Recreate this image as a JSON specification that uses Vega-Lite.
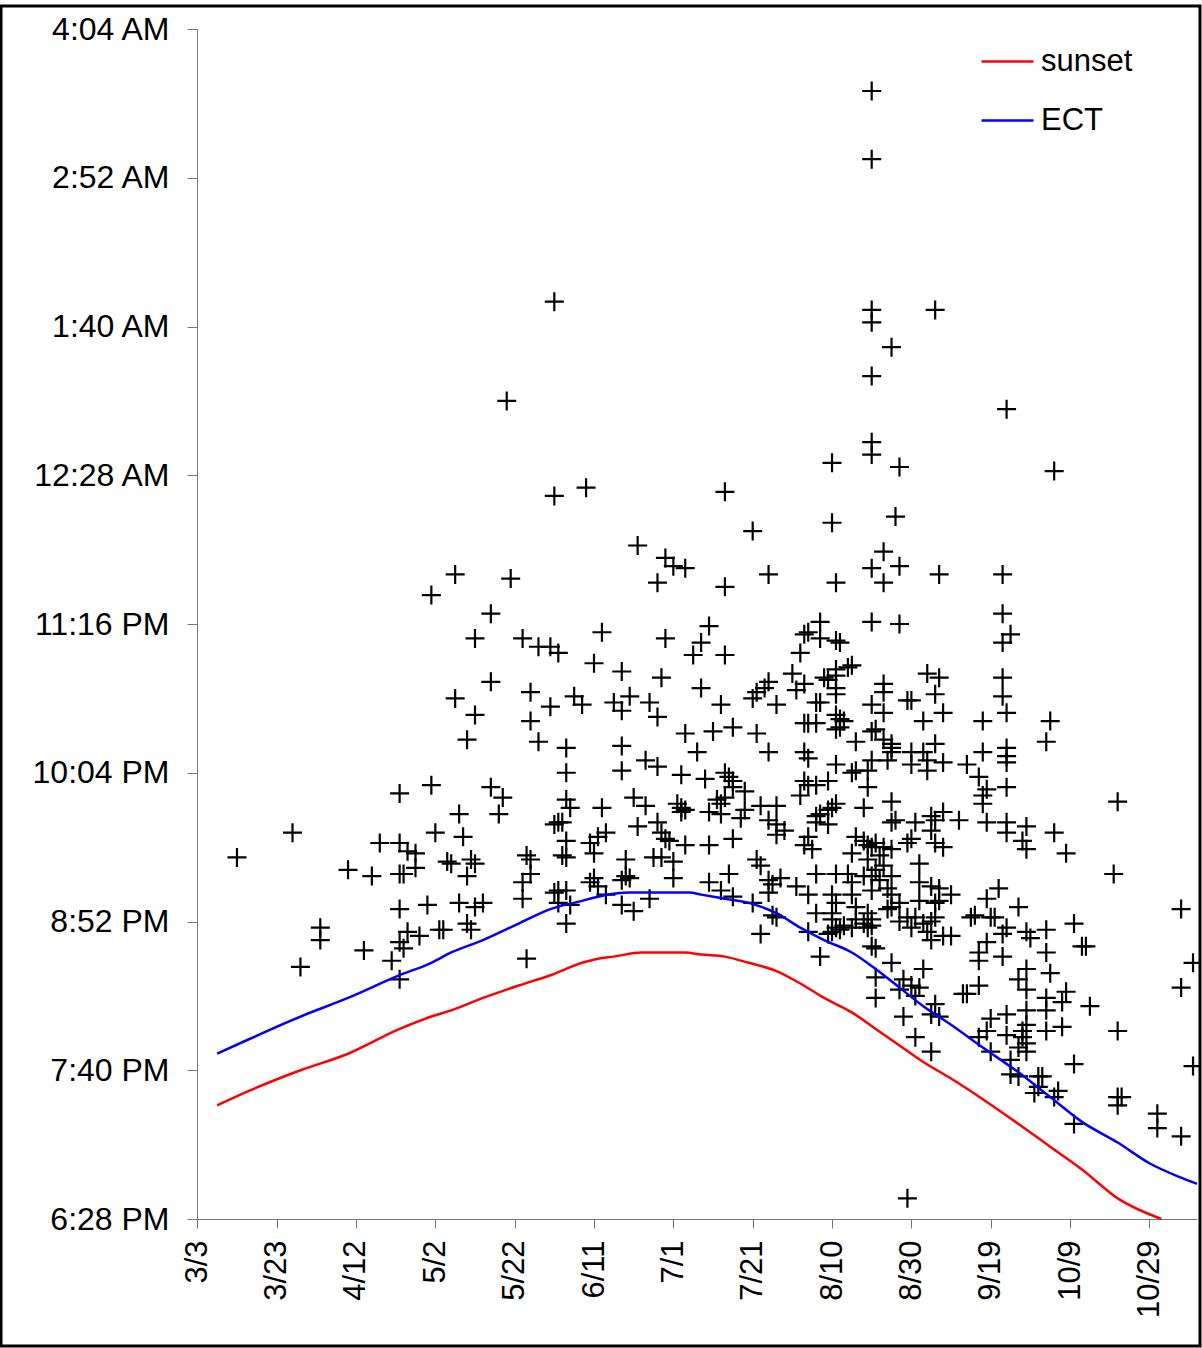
{
"$schema":"https://vega.github.io/schema/vega-lite/v6.json",
"width":1199,"height":1340,
"autosize":{"type":"none"},
"padding":{"left":1,"top":6,"right":2,"bottom":2},
"background":"white",
"config":{"view":{"stroke":"#000","strokeWidth":3,"fill":"white"},"font":"Liberation Sans",
"axis":{"labelFont":"Liberation Sans","labelFontSize":31,"labelColor":"#000","domainColor":"#777","tickColor":"#777","domainWidth":1,"tickWidth":1,"grid":false,"title":null}},
"datasets":{
"obs":[
{"date":"2006-08-20","minutes":1654},{"date":"2006-08-20","minutes":1621},{"date":"2006-06-01","minutes":1552},{"date":"2006-08-20","minutes":1548},{"date":"2006-08-20","minutes":1542},{"date":"2006-09-05","minutes":1548},{"date":"2006-08-25","minutes":1530},{"date":"2006-08-20","minutes":1516},{"date":"2006-05-20","minutes":1504},{"date":"2006-09-23","minutes":1500},
{"date":"2006-08-20","minutes":1484},{"date":"2006-08-20","minutes":1478},{"date":"2006-08-10","minutes":1474},{"date":"2006-08-27","minutes":1472},{"date":"2006-10-05","minutes":1470},{"date":"2006-06-01","minutes":1458},{"date":"2006-06-09","minutes":1462},{"date":"2006-07-14","minutes":1460},{"date":"2006-08-26","minutes":1448},{"date":"2006-08-10","minutes":1445},
{"date":"2006-07-21","minutes":1441},{"date":"2006-06-22","minutes":1434},{"date":"2006-08-23","minutes":1431},{"date":"2006-06-29","minutes":1428},{"date":"2006-07-01","minutes":1424},{"date":"2006-07-04","minutes":1423},{"date":"2006-08-20","minutes":1423},{"date":"2006-08-27","minutes":1424},{"date":"2006-06-27","minutes":1416},{"date":"2006-05-07","minutes":1420},
{"date":"2006-05-21","minutes":1418},{"date":"2006-08-23","minutes":1416},{"date":"2006-09-06","minutes":1420},{"date":"2006-09-22","minutes":1420},{"date":"2006-07-14","minutes":1414},{"date":"2006-07-25","minutes":1420},{"date":"2006-08-11","minutes":1416},{"date":"2006-05-01","minutes":1410},{"date":"2006-05-16","minutes":1401},{"date":"2006-09-22","minutes":1401},
{"date":"2006-08-20","minutes":1397},{"date":"2006-08-27","minutes":1396},{"date":"2006-08-07","minutes":1397},{"date":"2006-07-10","minutes":1395},{"date":"2006-05-12","minutes":1389},{"date":"2006-05-24","minutes":1389},{"date":"2006-05-28","minutes":1385},{"date":"2006-05-31","minutes":1385},{"date":"2006-06-02","minutes":1382},{"date":"2006-06-13","minutes":1392},
{"date":"2006-06-29","minutes":1389},{"date":"2006-07-08","minutes":1387},{"date":"2006-09-22","minutes":1387},{"date":"2006-09-24","minutes":1391},{"date":"2006-08-03","minutes":1391},{"date":"2006-08-04","minutes":1392},{"date":"2006-08-07","minutes":1389},{"date":"2006-08-12","minutes":1387},{"date":"2006-08-11","minutes":1388},{"date":"2006-08-02","minutes":1382},
{"date":"2006-07-06","minutes":1381},{"date":"2006-07-14","minutes":1381},{"date":"2006-06-11","minutes":1377},{"date":"2006-06-18","minutes":1373},{"date":"2006-06-28","minutes":1370},{"date":"2006-08-15","minutes":1376},{"date":"2006-08-14","minutes":1375},{"date":"2006-08-11","minutes":1374},{"date":"2006-08-11","minutes":1371},{"date":"2006-07-31","minutes":1372},
{"date":"2006-09-22","minutes":1370},{"date":"2006-09-03","minutes":1372},{"date":"2006-09-06","minutes":1370},{"date":"2006-05-16","minutes":1368},{"date":"2006-07-25","minutes":1368},{"date":"2006-07-24","minutes":1365},{"date":"2006-07-22","minutes":1363},{"date":"2006-07-21","minutes":1360},{"date":"2006-07-08","minutes":1365},{"date":"2006-08-08","minutes":1370},
{"date":"2006-08-09","minutes":1369},{"date":"2006-08-03","minutes":1367},{"date":"2006-08-01","minutes":1364},{"date":"2006-08-11","minutes":1365},{"date":"2006-08-11","minutes":1362},{"date":"2006-08-23","minutes":1367},{"date":"2006-08-23","minutes":1363},{"date":"2006-09-22","minutes":1361},{"date":"2006-09-23","minutes":1353},{"date":"2006-05-07","minutes":1360},
{"date":"2006-05-12","minutes":1352},{"date":"2006-05-26","minutes":1363},{"date":"2006-05-31","minutes":1356},{"date":"2006-06-06","minutes":1361},{"date":"2006-06-08","minutes":1357},{"date":"2006-06-16","minutes":1358},{"date":"2006-06-18","minutes":1354},{"date":"2006-06-20","minutes":1361},{"date":"2006-06-25","minutes":1358},{"date":"2006-06-27","minutes":1351},
{"date":"2006-07-13","minutes":1357},{"date":"2006-07-27","minutes":1357},{"date":"2006-08-06","minutes":1358},{"date":"2006-08-07","minutes":1358},{"date":"2006-08-20","minutes":1357},{"date":"2006-08-23","minutes":1353},{"date":"2006-08-29","minutes":1359},{"date":"2006-08-30","minutes":1359},{"date":"2006-09-05","minutes":1362},{"date":"2006-09-07","minutes":1353},
{"date":"2006-09-02","minutes":1349},{"date":"2006-09-17","minutes":1349},{"date":"2006-10-04","minutes":1349},{"date":"2006-10-03","minutes":1339},{"date":"2006-08-11","minutes":1352},{"date":"2006-08-12","minutes":1350},{"date":"2006-08-13","minutes":1349},{"date":"2006-05-26","minutes":1349},{"date":"2006-07-11","minutes":1344},{"date":"2006-07-16","minutes":1346},
{"date":"2006-07-22","minutes":1343},{"date":"2006-07-04","minutes":1343},{"date":"2006-05-10","minutes":1340},{"date":"2006-05-28","minutes":1339},{"date":"2006-06-04","minutes":1336},{"date":"2006-06-18","minutes":1337},{"date":"2006-07-07","minutes":1334},{"date":"2006-07-25","minutes":1334},{"date":"2006-08-03","minutes":1348},{"date":"2006-08-04","minutes":1348},
{"date":"2006-08-06","minutes":1348},{"date":"2006-08-11","minutes":1345},{"date":"2006-08-12","minutes":1346},{"date":"2006-08-16","minutes":1339},{"date":"2006-08-20","minutes":1344},{"date":"2006-08-21","minutes":1345},{"date":"2006-08-23","minutes":1340},{"date":"2006-08-25","minutes":1338},{"date":"2006-08-25","minutes":1336},{"date":"2006-09-05","minutes":1338},
{"date":"2006-09-17","minutes":1334},{"date":"2006-09-23","minutes":1336},{"date":"2006-09-23","minutes":1332},{"date":"2006-09-23","minutes":1329},{"date":"2006-09-13","minutes":1328},{"date":"2006-09-16","minutes":1322},{"date":"2006-09-18","minutes":1316},{"date":"2006-09-17","minutes":1313},{"date":"2006-09-17","minutes":1309},{"date":"2006-09-23","minutes":1317},
{"date":"2006-10-21","minutes":1310},{"date":"2006-08-04","minutes":1331},{"date":"2006-08-03","minutes":1334},{"date":"2006-08-11","minutes":1328},{"date":"2006-08-16","minutes":1325},{"date":"2006-08-15","minutes":1324},{"date":"2006-08-20","minutes":1330},{"date":"2006-08-19","minutes":1325},{"date":"2006-08-19","minutes":1317},{"date":"2006-08-25","minutes":1334},
{"date":"2006-08-24","minutes":1330},{"date":"2006-08-30","minutes":1334},{"date":"2006-08-30","minutes":1328},{"date":"2006-09-02","minutes":1334},{"date":"2006-09-03","minutes":1330},{"date":"2006-09-03","minutes":1325},{"date":"2006-09-07","minutes":1329},{"date":"2006-06-04","minutes":1324},{"date":"2006-06-18","minutes":1325},{"date":"2006-07-03","minutes":1323},
{"date":"2006-07-09","minutes":1321},{"date":"2006-07-14","minutes":1324},{"date":"2006-07-15","minutes":1322},{"date":"2006-07-16","minutes":1320},{"date":"2006-08-03","minutes":1320},{"date":"2006-08-04","minutes":1318},{"date":"2006-08-02","minutes":1313},{"date":"2006-08-06","minutes":1318},{"date":"2006-08-09","minutes":1320},{"date":"2006-07-16","minutes":1317},
{"date":"2006-07-19","minutes":1315},{"date":"2006-07-13","minutes":1309},{"date":"2006-07-12","minutes":1311},{"date":"2006-07-14","minutes":1312},{"date":"2006-05-16","minutes":1317},{"date":"2006-05-19","minutes":1312},{"date":"2006-06-04","minutes":1311},{"date":"2006-06-05","minutes":1307},{"date":"2006-06-13","minutes":1307},{"date":"2006-06-21","minutes":1312},
{"date":"2006-06-24","minutes":1308},{"date":"2006-07-02","minutes":1309},{"date":"2006-07-03","minutes":1305},{"date":"2006-07-04","minutes":1306},{"date":"2006-07-03","minutes":1307},{"date":"2006-04-23","minutes":1314},{"date":"2006-05-01","minutes":1318},{"date":"2006-07-10","minutes":1305},{"date":"2006-07-13","minutes":1304},{"date":"2006-07-19","minutes":1306},
{"date":"2006-07-23","minutes":1308},{"date":"2006-07-27","minutes":1308},{"date":"2006-07-25","minutes":1301},{"date":"2006-07-27","minutes":1299},{"date":"2006-07-18","minutes":1302},{"date":"2006-08-06","minutes":1303},{"date":"2006-08-07","minutes":1304},{"date":"2006-08-09","minutes":1306},{"date":"2006-08-10","minutes":1307},{"date":"2006-08-11","minutes":1309},
{"date":"2006-08-06","minutes":1300},{"date":"2006-08-09","minutes":1299},{"date":"2006-08-18","minutes":1307},{"date":"2006-08-25","minutes":1310},{"date":"2006-08-26","minutes":1301},{"date":"2006-08-25","minutes":1300},{"date":"2006-08-31","minutes":1300},{"date":"2006-09-04","minutes":1303},{"date":"2006-09-05","minutes":1301},{"date":"2006-09-04","minutes":1296},
{"date":"2006-09-07","minutes":1305},{"date":"2006-09-11","minutes":1301},{"date":"2006-09-18","minutes":1300},{"date":"2006-09-23","minutes":1300},{"date":"2006-09-23","minutes":1295},{"date":"2006-09-28","minutes":1298},{"date":"2006-09-27","minutes":1291},{"date":"2006-09-28","minutes":1287},{"date":"2006-10-05","minutes":1295},{"date":"2006-10-08","minutes":1285},
{"date":"2006-10-20","minutes":1275},{"date":"2006-05-08","minutes":1304},{"date":"2006-05-18","minutes":1304},{"date":"2006-06-02","minutes":1300},{"date":"2006-06-01","minutes":1299},{"date":"2006-06-03","minutes":1300},{"date":"2006-06-27","minutes":1300},{"date":"2006-06-22","minutes":1298},{"date":"2006-06-14","minutes":1295},{"date":"2006-06-28","minutes":1295},
{"date":"2006-06-29","minutes":1292},{"date":"2006-06-30","minutes":1291},{"date":"2006-05-09","minutes":1293},{"date":"2006-06-04","minutes":1291},{"date":"2006-06-10","minutes":1290},{"date":"2006-06-12","minutes":1293},{"date":"2006-07-04","minutes":1289},{"date":"2006-05-25","minutes":1284},{"date":"2006-05-26","minutes":1282},{"date":"2006-05-06","minutes":1280},
{"date":"2006-05-11","minutes":1282},{"date":"2006-05-12","minutes":1280},{"date":"2006-06-04","minutes":1283},{"date":"2006-06-03","minutes":1284},{"date":"2006-06-11","minutes":1285},{"date":"2006-06-19","minutes":1282},{"date":"2006-06-26","minutes":1283},{"date":"2006-06-28","minutes":1283},{"date":"2006-07-01","minutes":1281},{"date":"2006-05-10","minutes":1274},
{"date":"2006-05-26","minutes":1275},{"date":"2006-06-11","minutes":1273},{"date":"2006-06-19","minutes":1274},{"date":"2006-07-01","minutes":1273},{"date":"2006-04-18","minutes":1290},{"date":"2006-04-23","minutes":1290},{"date":"2006-04-25","minutes":1286},{"date":"2006-04-27","minutes":1285},{"date":"2006-05-02","minutes":1295},{"date":"2006-03-27","minutes":1295},
{"date":"2006-03-13","minutes":1283},{"date":"2006-04-10","minutes":1277},{"date":"2006-04-16","minutes":1274},{"date":"2006-04-23","minutes":1275},{"date":"2006-04-24","minutes":1275},{"date":"2006-04-27","minutes":1278},{"date":"2006-05-05","minutes":1281},{"date":"2006-04-23","minutes":1258},{"date":"2006-04-30","minutes":1260},{"date":"2006-04-03","minutes":1249},
{"date":"2006-04-03","minutes":1243},{"date":"2006-04-14","minutes":1238},{"date":"2006-03-29","minutes":1230},{"date":"2006-04-21","minutes":1233},{"date":"2006-04-23","minutes":1242},{"date":"2006-04-24","minutes":1239},{"date":"2006-04-25","minutes":1247},{"date":"2006-04-28","minutes":1245},{"date":"2006-05-03","minutes":1248},{"date":"2006-05-04","minutes":1248},
{"date":"2006-04-23","minutes":1224},{"date":"2006-05-24","minutes":1271},{"date":"2006-06-02","minutes":1267},{"date":"2006-06-04","minutes":1267},{"date":"2006-06-10","minutes":1271},{"date":"2006-06-12","minutes":1269},{"date":"2006-06-18","minutes":1272},{"date":"2006-06-20","minutes":1273},{"date":"2006-05-08","minutes":1261},{"date":"2006-05-12","minutes":1259},
{"date":"2006-05-14","minutes":1261},{"date":"2006-05-10","minutes":1251},{"date":"2006-05-11","minutes":1248},{"date":"2006-05-24","minutes":1263},{"date":"2006-06-01","minutes":1266},{"date":"2006-06-02","minutes":1261},{"date":"2006-06-05","minutes":1260},{"date":"2006-06-04","minutes":1251},{"date":"2006-06-14","minutes":1265},{"date":"2006-06-18","minutes":1260},
{"date":"2006-06-21","minutes":1257},{"date":"2006-06-25","minutes":1263},{"date":"2006-05-25","minutes":1234},{"date":"2006-07-10","minutes":1271},{"date":"2006-07-15","minutes":1275},{"date":"2006-07-25","minutes":1272},{"date":"2006-07-26","minutes":1270},{"date":"2006-07-28","minutes":1273},{"date":"2006-07-13","minutes":1267},{"date":"2006-07-16","minutes":1264},
{"date":"2006-07-25","minutes":1266},{"date":"2006-07-21","minutes":1261},{"date":"2006-08-01","minutes":1269},{"date":"2006-08-04","minutes":1265},{"date":"2006-08-06","minutes":1275},{"date":"2006-08-11","minutes":1275},{"date":"2006-08-10","minutes":1265},{"date":"2006-08-11","minutes":1261},{"date":"2006-08-10","minutes":1256},{"date":"2006-08-15","minutes":1271},
{"date":"2006-08-15","minutes":1265},{"date":"2006-08-16","minutes":1259},{"date":"2006-08-20","minutes":1274},{"date":"2006-08-20","minutes":1267},{"date":"2006-08-22","minutes":1272},{"date":"2006-08-24","minutes":1268},{"date":"2006-08-25","minutes":1265},{"date":"2006-08-27","minutes":1261},{"date":"2006-09-01","minutes":1271},{"date":"2006-09-04","minutes":1269},
{"date":"2006-09-06","minutes":1268},{"date":"2006-09-01","minutes":1262},{"date":"2006-09-05","minutes":1261},{"date":"2006-09-06","minutes":1262},{"date":"2006-08-24","minutes":1258},{"date":"2006-08-25","minutes":1259},{"date":"2006-08-19","minutes":1256},{"date":"2006-08-20","minutes":1253},{"date":"2006-08-18","minutes":1251},{"date":"2006-08-16","minutes":1253},
{"date":"2006-08-15","minutes":1249},{"date":"2006-08-13","minutes":1250},{"date":"2006-08-10","minutes":1253},{"date":"2006-08-11","minutes":1249},{"date":"2006-08-10","minutes":1247},{"date":"2006-08-09","minutes":1246},{"date":"2006-08-06","minutes":1256},{"date":"2006-07-27","minutes":1254},{"date":"2006-07-26","minutes":1255},{"date":"2006-08-04","minutes":1247},
{"date":"2006-07-23","minutes":1246},{"date":"2006-08-12","minutes":1248},{"date":"2006-08-20","minutes":1250},{"date":"2006-08-19","minutes":1249},{"date":"2006-08-20","minutes":1240},{"date":"2006-08-21","minutes":1239},{"date":"2006-08-27","minutes":1252},{"date":"2006-08-29","minutes":1254},{"date":"2006-08-30","minutes":1249},{"date":"2006-08-31","minutes":1254},
{"date":"2006-09-02","minutes":1251},{"date":"2006-09-03","minutes":1247},{"date":"2006-09-04","minutes":1252},{"date":"2006-09-05","minutes":1254},{"date":"2006-09-04","minutes":1243},{"date":"2006-09-07","minutes":1245},{"date":"2006-08-07","minutes":1235},{"date":"2006-08-25","minutes":1232},{"date":"2006-09-02","minutes":1229},{"date":"2006-08-21","minutes":1225},
{"date":"2006-08-21","minutes":1215},{"date":"2006-08-28","minutes":1224},{"date":"2006-08-27","minutes":1219},{"date":"2006-08-30","minutes":1221},{"date":"2006-08-31","minutes":1216},{"date":"2006-09-01","minutes":1220},{"date":"2006-08-28","minutes":1206},{"date":"2006-09-05","minutes":1212},{"date":"2006-09-04","minutes":1207},{"date":"2006-09-06","minutes":1206},
{"date":"2006-08-31","minutes":1196},{"date":"2006-09-04","minutes":1189},{"date":"2006-08-29","minutes":1118},{"date":"2006-09-09","minutes":1265},{"date":"2006-09-18","minutes":1263},{"date":"2006-09-21","minutes":1268},{"date":"2006-09-26","minutes":1259},{"date":"2006-09-14","minutes":1254},{"date":"2006-09-15","minutes":1255},{"date":"2006-09-19","minutes":1254},
{"date":"2006-09-20","minutes":1254},{"date":"2006-09-23","minutes":1249},{"date":"2006-09-22","minutes":1246},{"date":"2006-09-28","minutes":1247},{"date":"2006-09-29","minutes":1244},{"date":"2006-10-03","minutes":1248},{"date":"2006-10-10","minutes":1251},{"date":"2006-09-18","minutes":1242},{"date":"2006-09-16","minutes":1237},{"date":"2006-09-16","minutes":1233},
{"date":"2006-09-22","minutes":1235},{"date":"2006-10-03","minutes":1237},{"date":"2006-10-12","minutes":1240},{"date":"2006-10-13","minutes":1240},{"date":"2006-09-09","minutes":1245},{"date":"2006-11-06","minutes":1258},{"date":"2006-11-09","minutes":1232},{"date":"2006-09-28","minutes":1229},{"date":"2006-10-04","minutes":1227},{"date":"2006-09-26","minutes":1224},
{"date":"2006-09-16","minutes":1221},{"date":"2006-09-12","minutes":1217},{"date":"2006-09-13","minutes":1217},{"date":"2006-09-28","minutes":1219},{"date":"2006-10-08","minutes":1218},{"date":"2006-10-07","minutes":1213},{"date":"2006-10-03","minutes":1215},{"date":"2006-10-03","minutes":1209},{"date":"2006-10-14","minutes":1211},{"date":"2006-11-06","minutes":1220},
{"date":"2006-09-28","minutes":1209},{"date":"2006-09-28","minutes":1202},{"date":"2006-09-27","minutes":1199},{"date":"2006-09-27","minutes":1196},{"date":"2006-09-28","minutes":1193},{"date":"2006-09-26","minutes":1191},{"date":"2006-09-28","minutes":1189},{"date":"2006-09-19","minutes":1205},{"date":"2006-09-23","minutes":1207},{"date":"2006-09-18","minutes":1199},
{"date":"2006-09-23","minutes":1197},{"date":"2006-10-03","minutes":1199},{"date":"2006-10-07","minutes":1201},{"date":"2006-09-16","minutes":1196},{"date":"2006-09-19","minutes":1189},{"date":"2006-10-21","minutes":1199},{"date":"2006-09-24","minutes":1185},{"date":"2006-09-24","minutes":1178},{"date":"2006-09-26","minutes":1177},{"date":"2006-10-01","minutes":1177},
{"date":"2006-10-02","minutes":1177},{"date":"2006-10-01","minutes":1172},{"date":"2006-09-30","minutes":1169},{"date":"2006-10-10","minutes":1183},{"date":"2006-10-06","minutes":1170},{"date":"2006-10-05","minutes":1167},{"date":"2006-10-10","minutes":1154},{"date":"2006-10-21","minutes":1167},{"date":"2006-10-21","minutes":1163},{"date":"2006-10-22","minutes":1167},
{"date":"2006-10-31","minutes":1159},{"date":"2006-10-31","minutes":1152},{"date":"2006-11-06","minutes":1148},{"date":"2006-11-09","minutes":1182},{"date":"2006-07-29","minutes":1296},{"date":"2006-07-27","minutes":1294},{"date":"2006-07-16","minutes":1292},{"date":"2006-07-10","minutes":1289},{"date":"2006-08-04","minutes":1293},{"date":"2006-08-03","minutes":1289},
{"date":"2006-08-05","minutes":1287},{"date":"2006-08-16","minutes":1293},{"date":"2006-08-15","minutes":1285},{"date":"2006-08-18","minutes":1291},{"date":"2006-08-19","minutes":1289},{"date":"2006-08-20","minutes":1288},{"date":"2006-08-21","minutes":1290},{"date":"2006-08-23","minutes":1288},{"date":"2006-08-25","minutes":1287},{"date":"2006-08-22","minutes":1284},
{"date":"2006-08-19","minutes":1282},{"date":"2006-08-23","minutes":1279},{"date":"2006-08-21","minutes":1277},{"date":"2006-08-18","minutes":1274},{"date":"2006-08-25","minutes":1274},{"date":"2006-08-30","minutes":1292},{"date":"2006-08-29","minutes":1290},{"date":"2006-09-05","minutes":1290},{"date":"2006-09-07","minutes":1288},{"date":"2006-07-22","minutes":1282},
{"date":"2006-07-23","minutes":1279},{"date":"2006-09-01","minutes":1280},{"date":"2006-08-14","minutes":1275},{"date":"2006-06-24","minutes":1330},{"date":"2006-06-27","minutes":1327}
],
"curves":[
{"series":"sunset","date":"2006-03-08","minutes":1163},{"series":"sunset","date":"2006-03-16","minutes":1170},{"series":"sunset","date":"2006-03-29","minutes":1180},{"series":"sunset","date":"2006-04-10","minutes":1188},{"series":"sunset","date":"2006-04-23","minutes":1200},{"series":"sunset","date":"2006-05-01","minutes":1206},{"series":"sunset","date":"2006-05-06","minutes":1209},{"series":"sunset","date":"2006-05-14","minutes":1215},{"series":"sunset","date":"2006-05-23","minutes":1221},{"series":"sunset","date":"2006-05-31","minutes":1226},{"series":"sunset","date":"2006-06-08","minutes":1232},{"series":"sunset","date":"2006-06-12","minutes":1234},{"series":"sunset","date":"2006-06-16","minutes":1235},{"series":"sunset","date":"2006-06-23","minutes":1237},{"series":"sunset","date":"2006-07-04","minutes":1237},{"series":"sunset","date":"2006-07-08","minutes":1236},{"series":"sunset","date":"2006-07-14","minutes":1235},{"series":"sunset","date":"2006-07-20","minutes":1232},{"series":"sunset","date":"2006-07-27","minutes":1228},{"series":"sunset","date":"2006-08-02","minutes":1222},{"series":"sunset","date":"2006-08-08","minutes":1215},{"series":"sunset","date":"2006-08-15","minutes":1208},{"series":"sunset","date":"2006-08-21","minutes":1200},{"series":"sunset","date":"2006-08-27","minutes":1192},{"series":"sunset","date":"2006-09-02","minutes":1184},{"series":"sunset","date":"2006-09-09","minutes":1176},{"series":"sunset","date":"2006-09-17","minutes":1166},{"series":"sunset","date":"2006-09-26","minutes":1154},{"series":"sunset","date":"2006-10-04","minutes":1143},{"series":"sunset","date":"2006-10-12","minutes":1132},{"series":"sunset","date":"2006-10-21","minutes":1118},{"series":"sunset","date":"2006-11-01","minutes":1108},
{"series":"ECT","date":"2006-03-08","minutes":1188},{"series":"ECT","date":"2006-03-16","minutes":1195},{"series":"ECT","date":"2006-03-29","minutes":1206},{"series":"ECT","date":"2006-04-10","minutes":1215},{"series":"ECT","date":"2006-04-23","minutes":1226},{"series":"ECT","date":"2006-05-01","minutes":1232},{"series":"ECT","date":"2006-05-06","minutes":1237},{"series":"ECT","date":"2006-05-14","minutes":1243},{"series":"ECT","date":"2006-05-23","minutes":1251},{"series":"ECT","date":"2006-05-31","minutes":1258},{"series":"ECT","date":"2006-06-08","minutes":1262},{"series":"ECT","date":"2006-06-12","minutes":1264},{"series":"ECT","date":"2006-06-20","minutes":1266},{"series":"ECT","date":"2006-07-05","minutes":1266},{"series":"ECT","date":"2006-07-08","minutes":1265},{"series":"ECT","date":"2006-07-14","minutes":1263},{"series":"ECT","date":"2006-07-20","minutes":1261},{"series":"ECT","date":"2006-07-27","minutes":1256},{"series":"ECT","date":"2006-08-02","minutes":1249},{"series":"ECT","date":"2006-08-08","minutes":1243},{"series":"ECT","date":"2006-08-15","minutes":1237},{"series":"ECT","date":"2006-08-21","minutes":1229},{"series":"ECT","date":"2006-08-27","minutes":1220},{"series":"ECT","date":"2006-09-02","minutes":1211},{"series":"ECT","date":"2006-09-09","minutes":1202},{"series":"ECT","date":"2006-09-17","minutes":1191},{"series":"ECT","date":"2006-09-26","minutes":1179},{"series":"ECT","date":"2006-10-04","minutes":1167},{"series":"ECT","date":"2006-10-12","minutes":1155},{"series":"ECT","date":"2006-10-21","minutes":1145},{"series":"ECT","date":"2006-10-29","minutes":1135},{"series":"ECT","date":"2006-11-06","minutes":1128},{"series":"ECT","date":"2006-11-10","minutes":1125}
]
},
"encoding":{
"x":{"field":"date","type":"temporal",
"scale":{"type":"utc","domain":[{"year":2006,"month":3,"date":3,"utc":true},{"year":2006,"month":11,"date":10,"utc":true}],"range":[196.3,1196],"nice":false},
"axis":{"orient":"bottom","offset":-127,"values":[{"year":2006,"month":3,"date":3,"utc":true},{"year":2006,"month":3,"date":23,"utc":true},{"year":2006,"month":4,"date":12,"utc":true},{"year":2006,"month":5,"date":2,"utc":true},{"year":2006,"month":5,"date":22,"utc":true},{"year":2006,"month":6,"date":11,"utc":true},{"year":2006,"month":7,"date":1,"utc":true},{"year":2006,"month":7,"date":21,"utc":true},{"year":2006,"month":8,"date":10,"utc":true},{"year":2006,"month":8,"date":30,"utc":true},{"year":2006,"month":9,"date":19,"utc":true},{"year":2006,"month":10,"date":9,"utc":true},{"year":2006,"month":10,"date":29,"utc":true}],
"format":"%-m/%-d","labelAngle":270,"labelAlign":"right","labelBaseline":"middle","tickSize":9,"labelPadding":12,"labelOverlap":false,"labelFlush":false}},
"y":{"field":"minutes","type":"quantitative",
"scale":{"domain":[1108,1684],"range":[1213,23],"nice":false,"zero":false},
"axis":{"orient":"left","offset":-196,"values":[1108,1180,1252,1324,1396,1468,1540,1612,1684],"tickSize":10,"labelPadding":18,"labelFontSize":32,"labelOverlap":false,"labelFlush":false,
"labelExpr":"(floor(datum.value/60)%12==0?12:floor(datum.value/60)%12)+':'+(datum.value%60<10?'0':'')+(datum.value%60)+(floor(datum.value/60)%24<12?' AM':' PM')"}}
},
"layer":[
{"data":{"name":"obs"},
"mark":{"type":"point","shape":"M-1,0H1M0,-1V1","filled":false,"stroke":"#000","strokeWidth":2.2,"size":361,"opacity":1,"clip":true}},
{"data":{"name":"curves"},
"mark":{"type":"line","strokeWidth":2.5,"interpolate":"monotone","clip":true},
"encoding":{"color":{"field":"series","type":"nominal","scale":{"domain":["sunset","ECT"],"range":["#FF0000","#0000FF"]},
"legend":{"orient":"none","legendX":979,"legendY":28,"title":null,"labelFontSize":31,"labelFont":"Liberation Sans","labelColor":"#000","symbolType":"stroke","symbolSize":2704,"symbolStrokeWidth":2.5,"rowPadding":16,"labelOffset":6,"padding":0}}}}
]
}
